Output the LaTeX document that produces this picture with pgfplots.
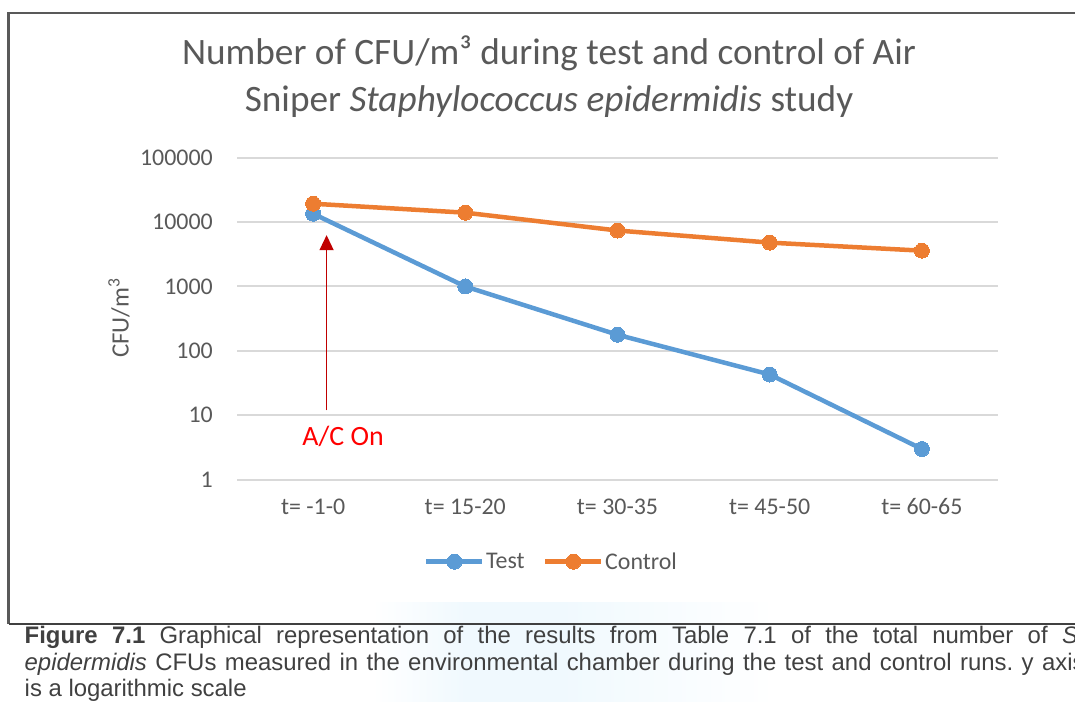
\documentclass[border=0pt]{standalone}
\usepackage{fontspec}
\setmainfont{Carlito}
\newfontfamily\capfont{Liberation Sans}
\usepackage{pgfplots}
\pgfplotsset{compat=1.18}
\usetikzlibrary{arrows.meta}
\definecolor{txt}{HTML}{595959}
\definecolor{tblue}{HTML}{5B9BD5}
\definecolor{torange}{HTML}{ED7D31}
\definecolor{gridc}{HTML}{D9D9D9}
\definecolor{bord}{HTML}{595959}
\definecolor{capc}{HTML}{404040}
\definecolor{wm}{RGB}{240,249,254}
\definecolor{darkred}{HTML}{C00000}
\begin{document}
\begin{tikzpicture}
\useasboundingbox (0,0) rectangle (1075bp,702bp);
\clip (0,0) rectangle (1075bp,702bp);
% faint watermark
\shade[left color=white, right color=wm, middle color=wm] (372bp,0bp) rectangle (560bp,99bp);
\shade[left color=wm, right color=white] (560bp,0bp) rectangle (775bp,99bp);
% border of chart area
\draw[bord, line width=2.5bp] (8.5bp,78bp) -- (8.5bp,689bp) -- (1080bp,689bp);
\draw[black!75, line width=1.3bp] (8.5bp,78bp) -- (1080bp,78bp);
% title
\node[text=txt, font=\fontsize{37.4}{45}\selectfont, anchor=base] at (549bp,637bp)
  {Number of CFU/m³ during test and control of Air};
\node[text=txt, font=\fontsize{37.4}{45}\selectfont, anchor=base] at (549bp,590bp)
  {Sniper \textit{Staphylococcus epidermidis} study};
% y label
\node[text=txt, rotate=90, font=\fontsize{25}{28}\selectfont] at (119bp,384bp) {CFU/m\textsuperscript{3}};
\begin{axis}[
  at={(237bp,222.3bp)}, anchor=south west,
  width=761bp, height=322bp, scale only axis,
  ymode=log, ymin=1, ymax=100000,
  xmin=-0.5, xmax=4.5,
  axis line style={draw=none},
  major tick length=0pt, minor tick length=0pt,
  yminorticks=false,
  ytick={1,10,100,1000,10000,100000},
  yticklabels={1,10,100,1000,10000,100000},
  xtick={0,1,2,3,4},
  xticklabels={t= -1-0, t= 15-20, t= 30-35, t= 45-50, t= 60-65},
  ymajorgrids, grid style={gridc, line width=2bp},
  tick label style={text=txt, font=\fontsize{24}{28}\selectfont},
  yticklabel style={inner sep=0pt, xshift=-24bp},
  xticklabel style={inner sep=0pt, anchor=base, yshift=-35bp},
  legend style={at={(0.413,-0.2547)}, anchor=center, draw=none, fill=none,
    legend columns=2, font=\fontsize{24}{28}\selectfont, text=txt,
    /tikz/every even column/.append style={column sep=17bp},
    nodes={inner sep=1.5bp}},
  legend image code/.code={\draw[mark repeat=2,mark phase=2,#1] plot coordinates {(0bp,0bp) (28bp,0bp) (56bp,0bp)};},
  clip=false,
]
\addplot[tblue, line width=4.5bp, mark=*, mark size=7.5bp, mark options={fill=tblue, draw=tblue, line width=0pt}]
  coordinates {(0,13500) (1,1000) (2,178) (3,43) (4,3)};
\addlegendentry{Test}
\addplot[torange, line width=4.5bp, mark=*, mark size=7.5bp, mark options={fill=torange, draw=torange, line width=0pt}]
  coordinates {(0,19300) (1,14000) (2,7400) (3,4800) (4,3600)};
\addlegendentry{Control}
% arrow annotation
\draw[darkred, line width=1.3bp, -{Triangle[length=15bp,width=14bp]}] (axis cs:0.0886,11.9) -- (axis cs:0.0886,6270);
\node[text=red, font=\fontsize{28}{32}\selectfont] at (axis cs:0.197,4.65) {A/C On};
\end{axis}
% caption
\node[anchor=base west, inner sep=0pt, text=capc] at (24.5bp,58bp) {\parbox[t]{1060bp}{\capfont\fontsize{24}{26.5}\selectfont\frenchspacing
\textbf{Figure 7.1} Graphical representation of the results from Table 7.1 of the total number of \textit{S.}\linebreak
\textit{epidermidis} CFUs measured in the environmental chamber during the test and control runs. y axis\linebreak
is a logarithmic scale}};
\end{tikzpicture}
\end{document}
